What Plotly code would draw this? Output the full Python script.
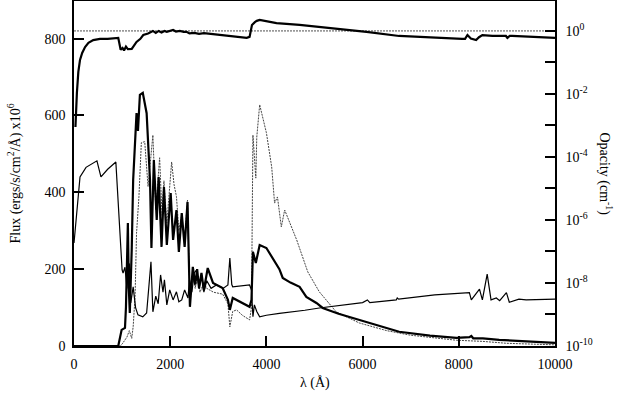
import plotly.graph_objects as go

# thin solid flux curve
wave_a = [0, 60, 125, 250, 477, 560, 700, 870, 950, 1000, 1020, 1060, 1100, 1120, 1150, 1180,
          1230, 1280, 1330, 1430, 1510, 1560, 1600, 1640, 1700, 1750, 1800, 1850, 1880, 1930,
          1990, 2060, 2130, 2180, 2240, 2300, 2370, 2400, 2450, 2500, 2550, 2600, 2650, 2700,
          2760, 2850, 2960, 3100, 3200, 3240, 3280, 3300, 3400, 3650, 3690, 3720, 3750, 3800,
          3860, 4000, 4270, 4500, 4800, 5100, 5500, 6000, 6100, 6150, 6700, 6720, 6750, 7180,
          7500, 8220, 8260, 8430, 8490, 8590, 8670, 8780, 8850, 8990, 9050, 9250, 9400, 10000]
flux_a = [268, 360, 440, 465, 482, 440, 460, 479, 300, 198, 190, 205, 150, 198, 215, 112,
          154, 100, 81, 76, 86, 150, 219, 89, 130, 110, 185, 140, 172, 107,
          146, 120, 141, 115, 120, 146, 125, 172, 140, 190, 198, 150, 185, 140,
          170, 150, 159, 150, 159, 229, 160, 154, 155, 159, 146, 76, 107, 90,
          76, 80, 85, 88, 93, 99, 106, 113, 120, 113, 120, 125, 122, 128,
          133, 139, 120, 148, 120, 187, 120, 125, 118, 139, 114, 122, 120, 122]

# thick flux curve
wave_b = [0, 920, 990, 1060, 1080, 1100, 1120, 1140, 1160, 1200, 1230, 1300, 1330, 1370, 1430,
          1510, 1580, 1610, 1660, 1720, 1760, 1820, 1870, 1930, 2010, 2060, 2130, 2180, 2240,
          2300, 2360, 2410, 2470, 2520, 2560, 2600, 2650, 2700, 2780, 2890, 3090, 3200, 3240,
          3300, 3650, 3690, 3720, 3780, 3860, 4000, 4270, 4340, 4500, 4690, 4830, 5040, 5170,
          5500, 5930, 6400, 6760, 7400, 7950, 8220, 8260, 8300, 8500, 8840, 9500, 10000]
flux_b = [0, 0, 42, 47, 100, 250, 320, 150, 86, 250, 432, 606, 560, 654, 659,
          606, 432, 255, 484, 328, 440, 258, 414, 263, 398, 276, 354, 245, 346,
          258, 375, 102, 206, 160, 200, 150, 190, 145, 203, 164, 151, 120, 94,
          125, 102, 120, 245, 216, 263, 255, 200, 177, 165, 154, 128, 112, 99,
          84, 68, 50, 37, 27, 21, 23, 26, 20, 20, 16, 11, 8]

# dotted grey flux curve
wave_c = [0, 960, 1000, 1050, 1100, 1150, 1200, 1230, 1270, 1300, 1350, 1400, 1470, 1540, 1640,
          1700, 1780, 1830, 1870, 1930, 1980, 2030, 2080, 2130, 2180, 2240, 2300, 2360, 2410,
          2470, 2520, 2560, 2620, 2700, 2760, 2900, 3090, 3200, 3240, 3300, 3380, 3500, 3650,
          3690, 3720, 3750, 3780, 3800, 3860, 4000, 4110, 4170, 4230, 4310, 4380, 4630, 4860,
          5100, 5450, 5930, 6500, 7000, 7950, 8500, 9000, 10000]
flux_c = [0, 0, 5, 15, 23, 40, 20, 50, 130, 293, 389, 529, 532, 415, 549,
          354, 490, 340, 430, 320, 400, 479, 420, 389, 300, 340, 280, 380, 110,
          190, 150, 180, 140, 165, 150, 140, 135, 110, 50, 90, 94, 80, 68,
          100, 549, 500, 437, 544, 628, 555, 466, 372, 388, 310, 354, 276, 193,
          141, 89, 60, 40, 28, 15, 12, 7, 3]

# opacity curve, log10 of cm^-1
wave_op = [30, 45, 60, 90, 125, 170, 230, 300, 400, 540, 700, 920, 970, 1010, 1040, 1080,
           1120, 1200, 1300, 1380, 1440, 1540, 1640, 1700, 1760, 1820, 1880, 1930, 2000,
           2060, 2120, 2200, 2280, 2340, 2400, 2500, 2600, 2700, 2890, 3200, 3590, 3650,
           3700, 3760, 3800, 3860, 3950, 4210, 4690, 5100, 5500, 6080, 6760, 7450, 8070,
           8130, 8180, 8250, 8360, 8420, 8490, 8700, 8980, 9010, 9060, 9110, 9520, 10000]
log_op = [-3.05, -2.3, -1.97, -1.3, -0.92, -0.7, -0.51, -0.38, -0.29, -0.25, -0.25, -0.22,
          -0.60, -0.54, -0.62, -0.50, -0.58, -0.57, -0.35, -0.25, -0.13, -0.08, 0.0, -0.06,
          0.0, -0.05, 0.0, -0.03, 0.0, 0.03, -0.02, 0.0, -0.03, -0.03, -0.08, -0.06, -0.09,
          -0.07, -0.10, -0.15, -0.22, -0.19, 0.19, 0.28, 0.32, 0.35, 0.33, 0.25, 0.19, 0.13,
          0.06, -0.03, -0.16, -0.22, -0.25, -0.25, -0.13, -0.24, -0.29, -0.20, -0.13, -0.16,
          -0.16, -0.22, -0.16, -0.16, -0.19, -0.22]
opacity = [10 ** v for v in log_op]

x_ticks = [0, 2000, 4000, 6000, 8000, 10000]
y_ticks = [0, 200, 400, 600, 800]
op_exps = list(range(-10, 1))

FONT = "Liberation Serif"

fig = go.Figure()
fig.add_trace(go.Scatter(x=[0, 10000], y=[1, 1], yaxis="y2", mode="lines",
                         line=dict(color="black", width=0.7, dash="2px,1px")))
fig.add_trace(go.Scatter(x=wave_c, y=flux_c, mode="lines",
                         line=dict(color="#444444", width=1, dash="2px,1px")))
fig.add_trace(go.Scatter(x=wave_a, y=flux_a, mode="lines",
                         line=dict(color="black", width=1.2)))
fig.add_trace(go.Scatter(x=wave_b, y=flux_b, mode="lines",
                         line=dict(color="black", width=2.2)))
fig.add_trace(go.Scatter(x=wave_op, y=opacity, yaxis="y2", mode="lines",
                         line=dict(color="black", width=2.2)))

axis_style = dict(showline=True, linecolor="black", linewidth=1.5, ticks="inside",
                  ticklen=10, tickwidth=1.5, tickcolor="black", showgrid=False,
                  zeroline=False, automargin=False,
                  tickfont=dict(family=FONT, size=14, color="black"))

title_font = dict(family=FONT, size=14, color="black")

fig.update_layout(
    width=619, height=400,
    margin=dict(l=74, r=64, t=1, b=54, autoexpand=False),
    plot_bgcolor="white", paper_bgcolor="white",
    font=dict(family=FONT, size=14, color="black"),
    showlegend=False,
    xaxis=dict(range=[0, 10000], tickvals=x_ticks, ticktext=[str(v) for v in x_ticks],
               mirror=True, ticklabelstandoff=4, **axis_style),
    yaxis=dict(range=[0, 898], tickvals=y_ticks, ticklabelstandoff=4, **axis_style),
    yaxis2=dict(overlaying="y", side="right", type="log", range=[-10, 0.95],
                tickvals=[10 ** e for e in op_exps],
                ticktext=["10<sup>%d</sup>" % e if e % 2 == 0 else "" for e in op_exps],
                ticklabelstandoff=6, **axis_style),
    annotations=[
        dict(text="Flux (ergs/s/cm<sup>2</sup>/Å) x10<sup>6</sup>", xref="paper", yref="paper",
             x=-0.1227, y=0.5, xanchor="center", yanchor="middle", textangle=-90,
             showarrow=False, font=title_font),
        dict(text="λ (Å)", xref="paper", yref="paper", x=0.5, y=-0.107,
             xanchor="center", yanchor="middle", showarrow=False, font=title_font),
        dict(text="Opacity (cm<sup>-1</sup>)", xref="paper", yref="paper",
             x=1.104, y=0.5, xanchor="center", yanchor="middle", textangle=90,
             showarrow=False, font=title_font),
    ],
)

# drop the default page margin so the figure sits at the window corner
fig.write_html("out.html", config={"displayModeBar": False},
               post_script="document.body.style.margin='0';")
